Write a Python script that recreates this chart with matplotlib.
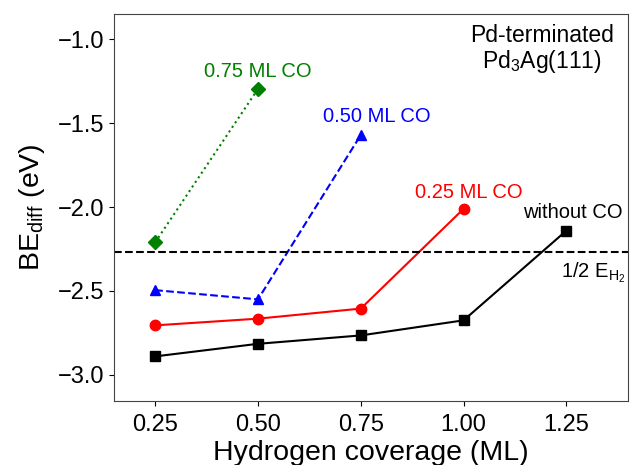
import numpy as np
import matplotlib.pyplot as plt

plt.rcParams['font.family'] = ['Liberation Sans', 'DejaVu Sans']
plt.rcParams['mathtext.fontset'] = 'custom'
plt.rcParams['mathtext.rm'] = 'Liberation Sans'
plt.rcParams['mathtext.it'] = 'Liberation Sans'

# ---------------- data ----------------
x_no_co = [0.25, 0.50, 0.75, 1.00, 1.25]
be_no_co = [-2.89, -2.815, -2.765, -2.675, -2.14]

x_025 = [0.25, 0.50, 0.75, 1.00]
be_025 = [-2.705, -2.665, -2.605, -2.01]

x_050 = [0.25, 0.50, 0.75]
be_050 = [-2.495, -2.55, -1.57]

x_075 = [0.25, 0.50]
be_075 = [-2.21, -1.295]

half_eh2 = -2.27
# --------------------------------------

fig = plt.figure(figsize=(6.3, 4.65), dpi=100)
ax = fig.add_axes([0.181, 0.138, 0.816, 0.832])

ax.plot(x_no_co, be_no_co, color='black', ls='-', marker='s', ms=7)
ax.plot(x_025, be_025, color='red', ls='-', marker='o', ms=7.5)
ax.plot(x_050, be_050, color='blue', ls='--', marker='^', ms=7.5)
ax.plot(x_075, be_075, color='green', ls=':', marker='D', ms=7)
ax.axhline(half_eh2, color='black', ls='--', lw=1.5)

fs = 14.5
ax.text(0.50, -1.19, '0.75 ML CO', color='green', fontsize=fs, ha='center', va='center')
ax.text(0.79, -1.46, '0.50 ML CO', color='blue', fontsize=fs, ha='center', va='center')
ax.text(1.013, -1.91, '0.25 ML CO', color='red', fontsize=fs, ha='center', va='center')
ax.text(1.265, -2.03, 'without CO', color='black', fontsize=fs, ha='center', va='center')
ax.text(1.238, -2.39, r'1/2 E$_{\mathrm{H_2}}$', color='black', fontsize=fs, ha='left', va='center')
ax.text(1.19, -1.06, 'Pd-terminated\nPd$_3$Ag(111)', color='black', fontsize=16.5,
        ha='center', va='center', linespacing=1.05)

ax.set_xlim(0.15, 1.4)
ax.set_ylim(-3.155, -0.848)
ax.set_xticks([0.25, 0.50, 0.75, 1.00, 1.25])
ax.set_yticks([-3.0, -2.5, -2.0, -1.5, -1.0])
ax.tick_params(labelsize=17)
ax.tick_params(axis='x', pad=6)
ax.set_xlabel('Hydrogen coverage (ML)', fontsize=20.5, labelpad=3)
ax.set_ylabel(r'BE$_{\mathrm{diff}}$ (eV)', fontsize=20.5, labelpad=8)
for s in ax.spines.values():
    s.set_color('#444444')

fig.savefig('out.png', dpi=100)
